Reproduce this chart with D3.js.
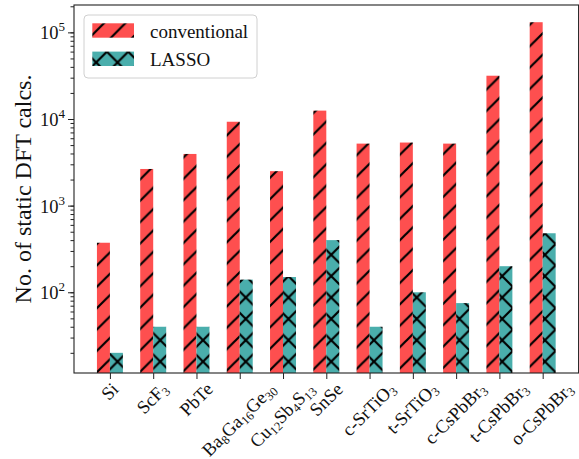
<!DOCTYPE html>
<html>
<head>
<meta charset="utf-8">
<script src="https://cdn.jsdelivr.net/npm/d3@7"></script>
<style>
  body { margin: 0; background: #fff; }
  text { font-family: "Liberation Serif", "Times New Roman", serif; fill: #111; }
</style>
</head>
<body>
<svg id="chart"></svg>
<script>
// compounds (digits are drawn as subscripts)
var materials = ["Si", "ScF3", "PbTe", "Ba8Ga16Ge30", "Cu12Sb4S13", "SnSe",
    "c-SrTiO3", "t-SrTiO3", "c-CsPbBr3", "t-CsPbBr3", "o-CsPbBr3"];

// number of static DFT calculations
var conventional = [373, 2650, 3950, 9300, 2500, 12500, 5200, 5350, 5200, 31600, 131000];
var lasso = [20, 40, 40, 140, 150, 400, 40, 100, 75, 200, 480];

var seriesNames = ["conventional", "LASSO"];
var yTickValues = [1e2, 1e3, 1e4, 1e5];
var yTickExponents = ["2", "3", "4", "5"];

var width = 579, height = 459;
var margin = {top: 5, left: 74, right: 0.4, bottom: 86};
var barWidth = 0.3;
var red = "#fe4f4f", teal = "#4aaeac";

var svg = d3.select("#chart")
    .attr("width", width)
    .attr("height", height);

var xScale = d3.scaleLinear()
    .domain([-0.83, materials.length - 1 + 0.83])
    .range([margin.left, width - margin.right]);

var yScale = d3.scaleLog()
    .domain([11.7, 2.07e5])
    .range([height - margin.bottom, margin.top]);

// hatch patterns, spacing as in the picture
var s = 21.37;
var defs = svg.append("defs");

var slash = defs.append("pattern")
    .attr("id", "slash")
    .attr("patternUnits", "userSpaceOnUse")
    .attr("width", s).attr("height", s)
    .attr("x", 0).attr("y", 20.4);
slash.append("rect").attr("width", s).attr("height", s).attr("fill", red);
slash.append("path")
    .attr("d", `M0,${s} L${s},0 M${-s / 2},${s / 2} L${s / 2},${-s / 2} M${s / 2},${s * 1.5} L${s * 1.5},${s / 2}`)
    .attr("stroke", "#000").attr("stroke-width", 2.2);

var cross = defs.append("pattern")
    .attr("id", "cross")
    .attr("patternUnits", "userSpaceOnUse")
    .attr("width", s).attr("height", s)
    .attr("x", 0).attr("y", 9);
cross.append("rect").attr("width", s).attr("height", s).attr("fill", teal);
cross.append("path")
    .attr("d", `M0,${s} L${s},0 M${-s / 2},${s / 2} L${s / 2},${-s / 2} M${s / 2},${s * 1.5} L${s * 1.5},${s / 2}` +
        ` M0,0 L${s},${s} M${-s / 2},${s / 2} L${s / 2},${s * 1.5} M${s / 2},${-s / 2} L${s * 1.5},${s / 2}`)
    .attr("stroke", "#000").attr("stroke-width", 2.2);

var y0 = yScale.range()[0];

//conventional bars
svg.append("g").selectAll("rect")
    .data(conventional)
    .enter()
    .append("rect")
    .attr("x", (d, i) => xScale(i - barWidth))
    .attr("width", (d, i) => xScale(i) - xScale(i - barWidth))
    .attr("y", d => yScale(d))
    .attr("height", d => y0 - yScale(d))
    .attr("fill", "url(#slash)");

//LASSO bars
svg.append("g").selectAll("rect")
    .data(lasso)
    .enter()
    .append("rect")
    .attr("x", (d, i) => xScale(i))
    .attr("width", (d, i) => xScale(i + barWidth) - xScale(i))
    .attr("y", d => yScale(d))
    .attr("height", d => y0 - yScale(d))
    .attr("fill", "url(#cross)");

// frame
svg.append("rect")
    .attr("x", xScale.range()[0])
    .attr("y", yScale.range()[1])
    .attr("width", xScale.range()[1] - xScale.range()[0])
    .attr("height", yScale.range()[0] - yScale.range()[1])
    .attr("fill", "none")
    .attr("stroke", "#222")
    .attr("stroke-width", 1.1);

// y axis: major + minor ticks
var minor = [];
for (var e = 1; e <= 5; e++) {
    for (var m = 1; m <= 9; m++) {
        var v = m * Math.pow(10, e);
        if (v >= yScale.domain()[0] && v <= yScale.domain()[1]) minor.push(v);
    }
}
var yAxis = svg.append("g")
    .attr("transform", `translate(${margin.left},0)`)
    .call(d3.axisLeft(yScale).tickValues(minor).tickSize(3.5).tickFormat(""));
yAxis.select(".domain").remove();
yAxis.selectAll("line").attr("stroke", "#222");

var yMajor = svg.append("g")
    .attr("transform", `translate(${margin.left},0)`)
    .call(d3.axisLeft(yScale).tickValues(yTickValues).tickSize(6).tickFormat(""));
yMajor.select(".domain").remove();
yMajor.selectAll("line").attr("stroke", "#222");

var yLabels = svg.append("g");
yTickValues.forEach(function (v, i) {
    var t = yLabels.append("text")
        .attr("x", margin.left - 9)
        .attr("y", yScale(v) + 7)
        .attr("text-anchor", "end")
        .style("font-size", "18.5px");
    t.append("tspan").text("10");
    t.append("tspan").attr("dy", -8).style("font-size", "13px").text(yTickExponents[i]);
});

// x axis ticks
var xAxis = svg.append("g")
    .attr("transform", `translate(0,${y0})`)
    .call(d3.axisBottom(xScale).tickValues(d3.range(materials.length)).tickSize(6).tickFormat(""));
xAxis.select(".domain").remove();
xAxis.selectAll("line").attr("stroke", "#222");

// rotated labels, centred under the tick like matplotlib's rotation=45
var labelTop = y0 + 6;
materials.forEach(function (name, i) {
    var t = svg.append("text").style("font-size", "18.5px");
    name.split(/(\d+)/).forEach(function (part) {
        if (part === "") return;
        if (/^\d+$/.test(part)) {
            t.append("tspan").attr("baseline-shift", "-25%").style("font-size", "12.5px").text(part);
        } else {
            t.append("tspan").text(part);
        }
    });
    var b = t.node().getBBox();
    var side = (b.width + b.height) / Math.SQRT2;
    var cx = b.x + b.width / 2, cy = b.y + b.height / 2;
    t.attr("transform", `translate(${xScale(i)},${labelTop + side / 2}) rotate(-45) translate(${-cx},${-cy})`);
});

// y label
svg.append("text")
    .attr("transform", `translate(31,${(yScale.range()[0] + yScale.range()[1]) / 2}) rotate(-90)`)
    .attr("text-anchor", "middle")
    .style("font-size", "24px")
    .text("No. of static DFT calcs.");

// legend
var legend = svg.append("g");
legend.append("rect")
    .attr("x", 84).attr("y", 15)
    .attr("width", 173).attr("height", 63)
    .attr("rx", 4)
    .attr("fill", "#fff").attr("fill-opacity", 0.8)
    .attr("stroke", "#d0d0d0");
var fills = ["url(#slash)", "url(#cross)"];
seriesNames.forEach(function (n, i) {
    legend.append("rect")
        .attr("x", 92.3).attr("y", 23.3 + i * 28.3)
        .attr("width", 41.7).attr("height", 14.4)
        .attr("fill", fills[i]);
    legend.append("text")
        .attr("x", 150).attr("y", 37.5 + i * 28.3)
        .style("font-size", "19px")
        .text(n);
});
</script>
</body>
</html>
